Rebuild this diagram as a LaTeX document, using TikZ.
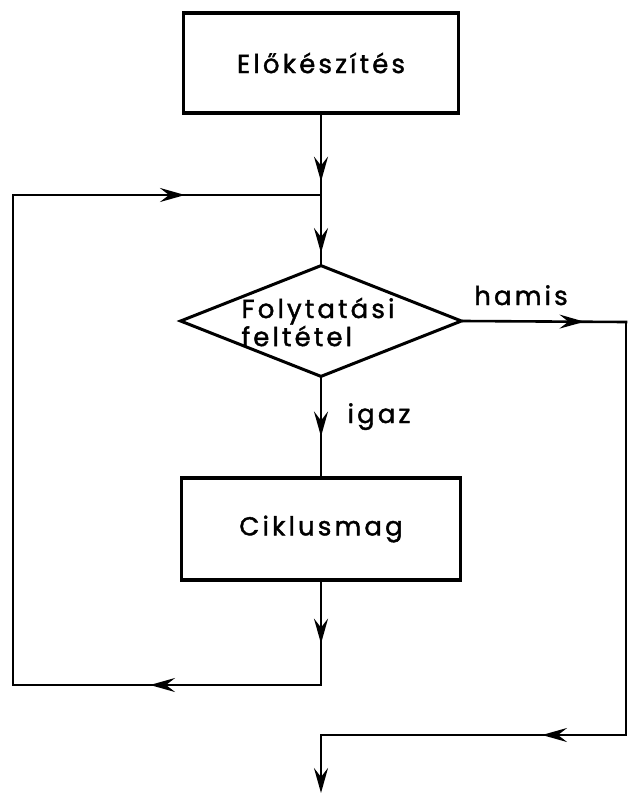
\documentclass[tikz,border=0pt]{standalone}
\usepackage{fontspec}
\setmainfont{Poppins}[LetterSpace=12, FakeBold=1.5]
\usetikzlibrary{shapes.geometric,arrows.meta,decorations.markings}
\tikzset{
  box/.style={draw, line width=3.2pt, rectangle, inner sep=0pt},
  cnd/.style={draw, line width=3pt, diamond, inner sep=0pt},
  conn/.style={line width=2.6pt, line cap=rect},
  midarrow/.style={postaction={decorate}, decoration={markings,
      mark=at position #1 with {\arrow{Stealth[length=25pt, width=14pt, inset=9pt]}}}},
  txt/.style={font=\fontsize{26}{25}\selectfont},
  lbl/.style={txt, inner sep=0pt, anchor=base}
}
\begin{document}
\begin{tikzpicture}[x=1pt, y=-1pt]
\useasboundingbox (0,0) rectangle (628,793);
\node[box, txt, minimum width=275pt, minimum height=100pt] (prep) at (321,63) {Előkészítés};
\node[cnd, minimum width=282pt, minimum height=112pt] (cond) at (321,321) {};
\node[txt, align=left, inner sep=0pt] (condtxt) at (318,322) {Folytatási\\feltétel};
\node[box, txt, minimum width=279pt, minimum height=102pt] (body) at (321,529) {Ciklusmag};
\node[lbl] (igaz) at (379,423) {igaz};
\node[lbl] (hamis) at (521,305) {hamis};
\coordinate (j1) at (321,195);
\coordinate (L1) at (13,195);
\coordinate (L2) at (13,685);
\coordinate (j2) at (321,685);
\coordinate (R1) at (626,322);
\coordinate (R2) at (626,735);
\coordinate (B1) at (321,735);
\coordinate (E) at (321,793);
\draw[conn, midarrow=67pt] (prep.south) -- (j1);
\draw[conn, midarrow=58pt] (j1) -- (cond.north);
\draw[conn, midarrow=172pt] (L1) -- (j1);
\draw[conn, midarrow=121pt] (cond.east) -- (R1);
\draw[conn] (R1) -- (R2);
\draw[conn, midarrow=58pt] (cond.south) -- (body.north);
\draw[conn, midarrow=62pt] (body.south) -- (j2);
\draw[conn, midarrow=171pt] (j2) -- (L2);
\draw[conn] (L2) -- (L1);
\draw[conn, midarrow=84pt] (R2) -- (B1);
\draw[conn, line cap=butt, -{Stealth[length=25pt, width=14pt, inset=9pt]}] (B1) -- (E);
\end{tikzpicture}
\end{document}
